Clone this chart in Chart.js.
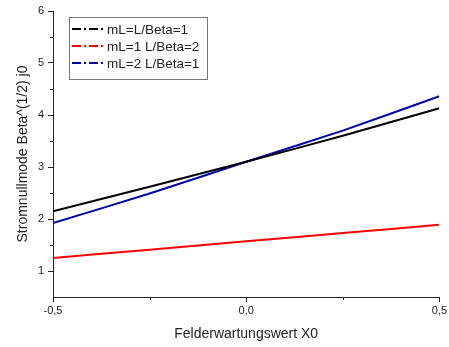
<!DOCTYPE html>
<html>
<head>
<meta charset="utf-8">
<script src="https://cdn.jsdelivr.net/npm/chart.js@4"></script>
<style>
  html, body { margin: 0; padding: 0; background: #fff; }
  #wrap { width: 449px; height: 347px; }
</style>
</head>
<body>
<div id="wrap"><canvas id="chart" width="449" height="347"></canvas></div>
<script>
// --- data ---
const xValues = [-0.5, -0.25, 0, 0.25, 0.5];
const seriesNames = ['mL=L/Beta=1', 'mL=1 L/Beta=2', 'mL=2 L/Beta=1'];
const blackValues = [2.15, 2.62, 3.10, 3.60, 4.13];
const redValues = [1.25, 1.41, 1.57, 1.73, 1.89];
const blueValues = [1.92, 2.49, 3.10, 3.70, 4.36];
const xTicks = [-0.5, 0, 0.5];
const xMinorTicks = [-0.25, 0.25];
const yTicks = [1, 2, 3, 4, 5, 6];
const yMinorTicks = [1.5, 2.5, 3.5, 4.5, 5.5];

const axisColor = '#222';
const seriesColors = ['#000000', '#ff0000', '#0000a8'];
const fontFamily = '"Liberation Sans", Arial, sans-serif';

function toPoints(values) {
    return values.map((v, i) => ({x: xValues[i], y: v}));
}

// small ticks between the labelled ones
const minorTicksPlugin = {
    id: 'minorTicks',
    afterDraw(chart) {
        const ctx = chart.ctx;
        const xs = chart.scales.x;
        const ys = chart.scales.y;
        ctx.save();
        ctx.strokeStyle = axisColor;
        ctx.lineWidth = 1;
        ctx.beginPath();
        xMinorTicks.forEach(v => {
            const px = Math.round(xs.getPixelForValue(v)) + 0.5;
            ctx.moveTo(px, ys.bottom);
            ctx.lineTo(px, ys.bottom + 3);
        });
        yMinorTicks.forEach(v => {
            const py = Math.round(ys.getPixelForValue(v)) + 0.5;
            ctx.moveTo(xs.left - 3, py);
            ctx.lineTo(xs.left, py);
        });
        ctx.stroke();
        ctx.restore();
    }
};

// boxed legend inside the plot, dash-dot samples
const boxLegendPlugin = {
    id: 'boxLegend',
    afterDraw(chart) {
        const ctx = chart.ctx;
        const left = 69, top = 17, w = 138, h = 62;
        ctx.save();
        ctx.fillStyle = '#fff';
        ctx.fillRect(left, top, w, h);
        ctx.strokeStyle = '#777';
        ctx.lineWidth = 1;
        ctx.strokeRect(left + 0.5, top + 0.5, w, h);
        ctx.font = '13.5px ' + fontFamily;
        ctx.textBaseline = 'middle';
        chart.data.datasets.forEach((ds, i) => {
            const y = top + 12 + i * 17;
            ctx.strokeStyle = ds.borderColor;
            ctx.lineWidth = 2;
            ctx.setLineDash([9, 3, 2, 3]);
            ctx.beginPath();
            ctx.moveTo(left + 3, y);
            ctx.lineTo(left + 35, y);
            ctx.stroke();
            ctx.setLineDash([]);
            ctx.fillStyle = '#222';
            ctx.fillText(ds.label, left + 38, y + 1);
        });
        ctx.restore();
    }
};

const datasets = [blackValues, redValues, blueValues].map((vals, i) => ({
    label: seriesNames[i],
    data: toPoints(vals),
    borderColor: seriesColors[i],
    backgroundColor: seriesColors[i],
    borderWidth: 2,
    pointRadius: 0,
    tension: 0.2,
    fill: false
}));

const tickFont = {family: fontFamily, size: 11};
const titleFont = {family: fontFamily, size: 14};

new Chart(document.getElementById('chart'), {
    type: 'line',
    data: {datasets: datasets},
    options: {
        responsive: false,
        animation: false,
        layout: {padding: {top: 11, right: 8, left: 0, bottom: 0}},
        plugins: {legend: {display: false}, tooltip: {enabled: false}},
        scales: {
            x: {
                type: 'linear',
                min: -0.5,
                max: 0.5,
                afterBuildTicks: scale => { scale.ticks = xTicks.map(v => ({value: v})); },
                afterFit: scale => { scale.height = 50; },
                border: {color: axisColor, width: 1},
                grid: {drawOnChartArea: false, drawTicks: true, tickLength: 5, color: axisColor},
                ticks: {
                    color: '#222',
                    font: tickFont,
                    padding: 2,
                    maxRotation: 0,
                    callback: v => v.toFixed(1).replace('.', ',')
                },
                title: {display: true, text: 'Felderwartungswert X0', color: '#222', font: titleFont, padding: {top: 6}}
            },
            y: {
                type: 'linear',
                min: 0.5,
                max: 6,
                afterBuildTicks: scale => { scale.ticks = yTicks.map(v => ({value: v})); },
                afterFit: scale => { scale.width = 53; },
                border: {color: axisColor, width: 1},
                grid: {drawOnChartArea: false, drawTicks: true, tickLength: 5, color: axisColor},
                ticks: {color: '#222', font: tickFont, padding: 4},
                title: {display: true, text: 'Stromnullmode Beta^(1/2) j0', color: '#222', font: titleFont, padding: {top: 15, bottom: 0}}
            }
        }
    },
    plugins: [minorTicksPlugin, boxLegendPlugin]
});
</script>
</body>
</html>
